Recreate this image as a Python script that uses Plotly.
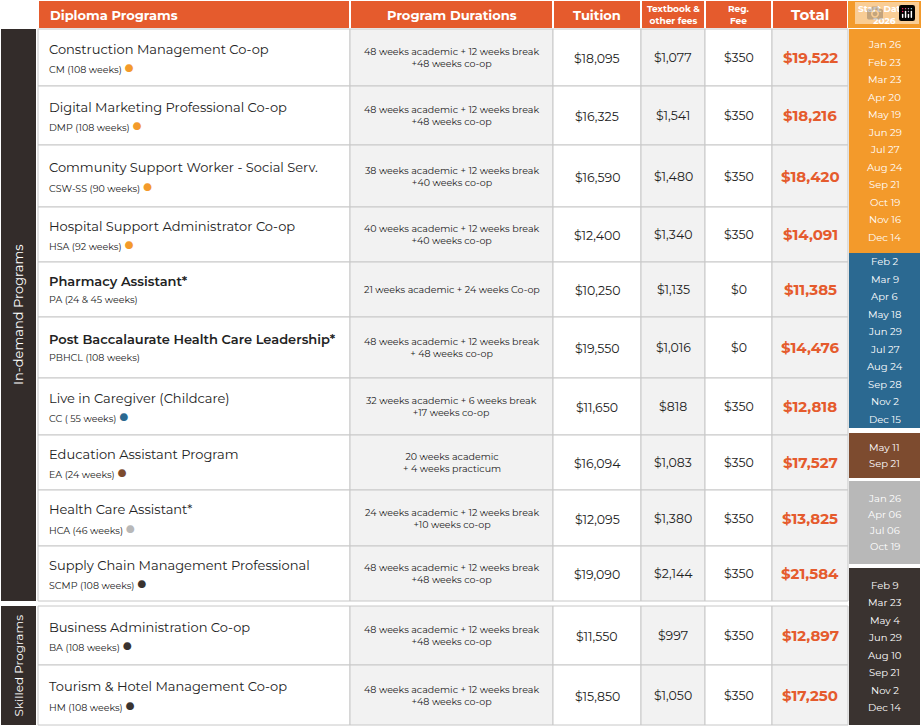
import plotly.graph_objects as go

# data
programs = ["Construction Management Co-op", "Digital Marketing Professional Co-op",
            "Community Support Worker - Social Serv.", "Hospital Support Administrator Co-op",
            "Pharmacy Assistant*", "Post Baccalaurate Health Care Leadership*",
            "Live in Caregiver (Childcare)", "Education Assistant Program",
            "Health Care Assistant*", "Supply Chain Management Professional",
            "Business Administration Co-op", "Tourism & Hotel Management Co-op"]
codes = ["CM (108 weeks)", "DMP (108 weeks)", "CSW-SS (90 weeks)", "HSA (92 weeks)",
         "PA (24 & 45 weeks)", "PBHCL (108 weeks)", "CC ( 55 weeks)", "EA (24 weeks)",
         "HCA (46 weeks)", "SCMP (108 weeks)", "BA (108 weeks)", "HM (108 weeks)"]
dot_group = [0, 0, 0, 0, None, None, 1, 2, 3, 4, 4, 4]
durations = ["48 weeks academic + 12 weeks break<br>+48 weeks co-op",
             "48 weeks academic + 12 weeks break<br>+48 weeks co-op",
             "38 weeks academic + 12 weeks break<br>+40 weeks co-op",
             "40 weeks academic + 12 weeks break<br>+40 weeks co-op",
             "21 weeks academic + 24 weeks Co-op",
             "48 weeks academic + 12 weeks break<br>+ 48 weeks co-op",
             "32 weeks academic + 6 weeks break<br>+17 weeks co-op",
             "20 weeks academic<br>+ 4 weeks practicum",
             "24 weeks academic + 12 weeks break<br>+10 weeks co-op",
             "48 weeks academic + 12 weeks break<br>+48 weeks co-op",
             "48 weeks academic + 12 weeks break<br>+48 weeks co-op",
             "48 weeks academic + 12 weeks break<br>+48 weeks co-op"]
tuition = ["$18,095", "$16,325", "$16,590", "$12,400", "$10,250", "$19,550",
           "$11,650", "$16,094", "$12,095", "$19,090", "$11,550", "$15,850"]
textbook = ["$1,077", "$1,541", "$1,480", "$1,340", "$1,135", "$1,016",
            "$818", "$1,083", "$1,380", "$2,144", "$997", "$1,050"]
reg_fee = ["$350", "$350", "$350", "$350", "$0", "$0",
           "$350", "$350", "$350", "$350", "$350", "$350"]
total = ["$19,522", "$18,216", "$18,420", "$14,091", "$11,385", "$14,476",
         "$12,818", "$17,527", "$13,825", "$21,584", "$12,897", "$17,250"]
headers = ["Diploma Programs", "Program Durations", "Tuition",
           "Textbook &<br>other fees", "Reg.<br>Fee", "Total"]
start_dates = [
    ["Jan 26", "Feb 23", "Mar 23", "Apr 20", "May 19", "Jun 29", "Jul 27",
     "Aug 24", "Sep 21", "Oct 19", "Nov 16", "Dec 14"],
    ["Feb 2", "Mar 9", "Apr 6", "May 18", "Jun 29", "Jul 27", "Aug 24",
     "Sep 28", "Nov 2", "Dec 15"],
    ["May 11", "Sep 21"],
    ["Jan 26", "Apr 06", "Jul 06", "Oct 19"],
    ["Feb 9", "Mar 23", "May 4", "Jun 29", "Aug 10", "Sep 21", "Nov 2", "Dec 14"],
]
sections = ["In-demand Programs", "Skilled Programs"]

# layout
group_colors = ["#f39a2b", "#2b6991", "#7d4b2f", "#b8b8b8", "#3a3330"]
orange = "#e55b2d"
dark = "#332c2a"
col_x = [38, 350, 553, 641, 705, 772, 848]
col_bg = ["white", "#f2f2f2", "white", "#f2f2f2", "white", "#f2f2f2"]
row_y = [29, 86, 145, 207, 262, 317, 378, 435, 490, 546, 601]
row_edges = [(row_y[i], row_y[i + 1]) for i in range(10)] + [(606, 665), (665, 725)]
date_blocks = [(29, 253), (253, 428), (433, 478), (481, 564), (568, 725)]
section_blocks = [(29, 601), (606, 725)]
font = "Montserrat, Lato, Open Sans, sans-serif"

fig = go.Figure()
shapes, ann = [], []


def rect(x0, y0, x1, y1, fill, line="rgba(0,0,0,0)", w=0):
    shapes.append(dict(type="rect", xref="x", yref="y", x0=x0, y0=y0, x1=x1, y1=y1,
                       fillcolor=fill, line=dict(color=line, width=w), layer="below"))


def text(x, y, s, size, color="#222", xanchor="center", bold=False, **kw):
    if bold:
        s = "<b>" + s + "</b>"
    ann.append(dict(x=x, y=y, xref="x", yref="y", text=s, showarrow=False,
                    xanchor=xanchor, yanchor="middle", align=xanchor if xanchor != "center" else "center",
                    font=dict(size=size, color=color, family=font), **kw))


# header
for c, h in enumerate(headers):
    rect(col_x[c] + 1, 1, col_x[c + 1] - 1, 28, orange)
    big = c < 3 or c == 5
    text((col_x[c] + col_x[c + 1]) / 2 if c else col_x[c] + 10, 14.5, h,
         15 if c == 5 else (13 if big else 9), "white",
         xanchor="center" if c else "left", bold=True)
rect(col_x[6], 1, 921, 28, "#f39a2b")
text((col_x[6] + 921) / 2, 14.5, "Start Dates<br>2026", 9, "white", bold=True)

# body rows
for r, (y0, y1) in enumerate(row_edges):
    ym = (y0 + y1) / 2
    for c in range(6):
        rect(col_x[c], y0, col_x[c + 1], y1, col_bg[c], "#c8c8c8", 1)
    name = programs[r]
    if r in (4, 5):
        name = '<span style="font-weight:600">' + name + '</span>'
    text(col_x[0] + 9, ym - 9, name, 13, "#222", xanchor="left")
    dot = ""
    if dot_group[r] is not None:
        dot = ' <span style="color:%s;font-size:16px">●</span>' % group_colors[dot_group[r]]
    text(col_x[0] + 9, ym + 10, codes[r] + dot, 9.5, "#222", xanchor="left")
    text((col_x[1] + col_x[2]) / 2, ym, durations[r], 9.5)
    text((col_x[2] + col_x[3]) / 2, ym + 1, tuition[r], 12.5)
    text((col_x[3] + col_x[4]) / 2, ym, textbook[r], 12.5)
    text((col_x[4] + col_x[5]) / 2, ym, reg_fee[r], 12.5)
    text((col_x[5] + col_x[6]) / 2, ym, total[r], 15, orange, bold=True)

# start date blocks
for g, (y0, y1) in enumerate(date_blocks):
    rect(col_x[6] + 1, y0, 920, y1, group_colors[g])
    n = len(start_dates[g])
    step = 17.5 if n > 4 else 16
    top = (y0 + y1) / 2 - step * (n - 1) / 2
    for i, d in enumerate(start_dates[g]):
        text((col_x[6] + 921) / 2, top + i * step, d, 10, "white")

# section side bars
for s, (y0, y1) in enumerate(section_blocks):
    rect(1, y0, 36, y1, dark)
    text(18, (y0 + y1) / 2, sections[s], 13 if s == 0 else 12, "white", textangle=-90)

fig.update_layout(
    width=921, height=726, margin=dict(l=0, r=0, t=0, b=0),
    plot_bgcolor="white", paper_bgcolor="white", showlegend=False,
    xaxis=dict(range=[0, 921], visible=False, fixedrange=True),
    yaxis=dict(range=[726, 0], visible=False, fixedrange=True),
    shapes=shapes, annotations=ann,
)
fig.write_html("out.html", post_script="document.body.style.margin='0';")
